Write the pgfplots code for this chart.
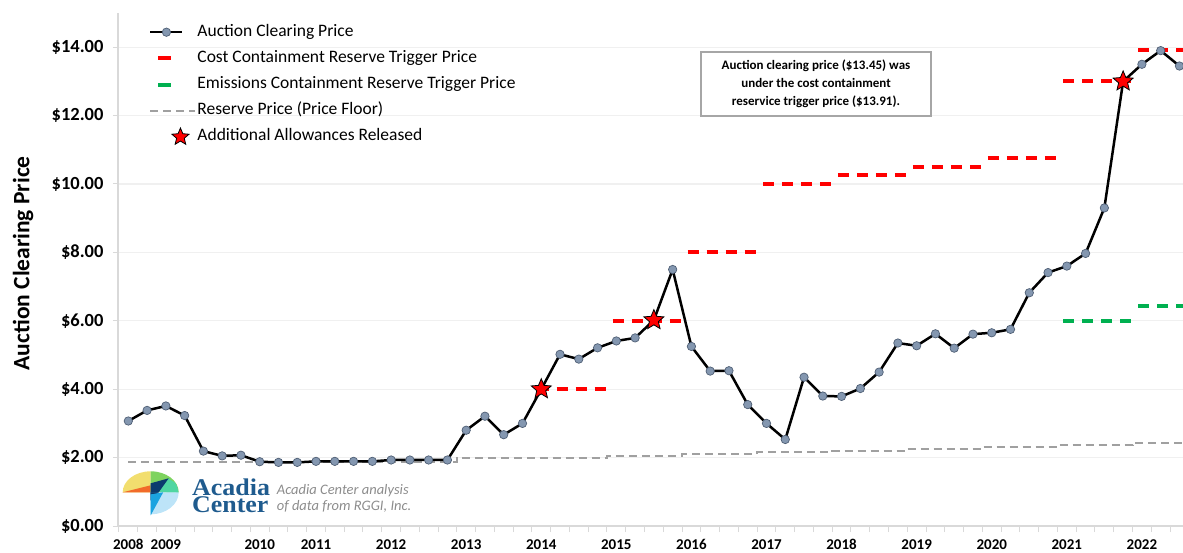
\documentclass[border=0pt]{standalone}
\usepackage{pgfplots}
\pgfplotsset{compat=1.18}
\usepackage{fontspec}
\setmainfont{Carlito}
\newfontfamily\logofont[FakeStretch=1.08]{Liberation Serif}
\usetikzlibrary{plotmarks}

\definecolor{markfill}{HTML}{8497B0}
\definecolor{markedge}{HTML}{4F5F75}
\definecolor{gridc}{HTML}{F0F0F0}
\definecolor{axc}{HTML}{D9D9D9}
\definecolor{ccr}{HTML}{FF0000}
\definecolor{ecr}{HTML}{00B050}
\definecolor{floorc}{HTML}{A0A0A0}
\definecolor{annc}{HTML}{A6A6A6}
\definecolor{logoblue}{HTML}{1F5B8E}
\definecolor{logogrey}{HTML}{8C8C8C}
\definecolor{lyellow}{HTML}{F2DE6E}
\definecolor{lorange}{HTML}{F26B2A}
\definecolor{lgreen}{HTML}{7ED35F}
\definecolor{lteal}{HTML}{4FD6A2}
\definecolor{lnavy}{HTML}{0B3B6E}
\definecolor{lblue}{HTML}{1BA3E0}
\definecolor{llblue}{HTML}{BDE4F8}

\pgfdeclareplotmark{fstar}{%
  \pgfpathmoveto{\pgfpointpolar{90}{\pgfplotmarksize}}%
  \pgfpathlineto{\pgfpointpolar{126}{0.45\pgfplotmarksize}}%
  \pgfpathlineto{\pgfpointpolar{162}{\pgfplotmarksize}}%
  \pgfpathlineto{\pgfpointpolar{198}{0.45\pgfplotmarksize}}%
  \pgfpathlineto{\pgfpointpolar{234}{\pgfplotmarksize}}%
  \pgfpathlineto{\pgfpointpolar{270}{0.45\pgfplotmarksize}}%
  \pgfpathlineto{\pgfpointpolar{306}{\pgfplotmarksize}}%
  \pgfpathlineto{\pgfpointpolar{342}{0.45\pgfplotmarksize}}%
  \pgfpathlineto{\pgfpointpolar{18}{\pgfplotmarksize}}%
  \pgfpathlineto{\pgfpointpolar{54}{0.45\pgfplotmarksize}}%
  \pgfpathclose
  \pgfusepathqfillstroke
}

\begin{document}
\begin{tikzpicture}
\useasboundingbox (-118pt,-26pt) rectangle (1065pt,526pt);
\begin{axis}[
  at={(0pt,0pt)}, anchor=south west,
  scale only axis, width=1065pt, height=513pt,
  xmin=-0.55, xmax=56.19, ymin=0, ymax=15,
  axis lines=left, axis line style={-, draw=axc, line width=1.3pt},
  xtick={0,2,7,10,14,18,22,26,30,34,38,42,46,50,54},
  xticklabels={2008,2009,2010,2011,2012,2013,2014,2015,2016,2017,2018,2019,2020,2021,2022},
  major x tick style={draw=none},
  minor xtick={-0.5,0.5,...,55.5},
  minor x tick style={draw=axc, line width=1pt},
  tick align=outside,
  minor tick length=6pt,
  major tick length=5pt,
  ytick={0,2,4,6,8,10,12,14},
  yticklabels={\$0.00,\$2.00,\$4.00,\$6.00,\$8.00,\$10.00,\$12.00,\$14.00},
  major y tick style={draw=axc, line width=1pt},
  ymajorgrids, grid style={draw=gridc, line width=1.3pt},
  xticklabel style={font=\bfseries\fontsize{15}{16}\selectfont, yshift=-5pt},
  yticklabel style={font=\bfseries\fontsize{18.5}{20}\selectfont, xshift=-6pt},
  ylabel={Auction Clearing Price},
  ylabel style={at={(axis description cs:-0.0892,0.512)}, anchor=center, font=\bfseries\fontsize{23.5}{24}\selectfont},
  unbounded coords=jump,
  clip=false,
  legend style={at={(rel axis cs:0,1)}, anchor=north west, draw=none, fill=none,
    xshift=31pt, yshift=-10pt, inner sep=0pt,
    font=\fontsize{17.5}{20}\selectfont, row sep=8.2pt,
    nodes={inner sep=1pt, text height=12pt, text depth=4pt}},
  legend cell align=left,
]
% legend images (order of the legend)
\addlegendimage{legend image code/.code={
  \path[draw=none, fill=none] (0pt,-5pt) rectangle (45pt,5pt);
  \draw[black, solid, line width=2.5pt] (0pt,0pt) -- (32pt,0pt);
  \draw[solid, fill=markfill, draw=markedge, line width=0.7pt] (16pt,0pt) circle (4.2pt);}}
\addlegendentry{Auction Clearing Price}
\addlegendimage{legend image code/.code={
  \path[draw=none, fill=none] (0pt,-5pt) rectangle (45pt,5pt);
  \draw[solid, ccr, line width=4pt] (8pt,0pt) -- (21pt,0pt);}}
\addlegendentry{Cost Containment Reserve Trigger Price}
\addlegendimage{legend image code/.code={
  \path[draw=none, fill=none] (0pt,-5pt) rectangle (45pt,5pt);
  \draw[solid, ecr, line width=4pt] (8pt,0pt) -- (21pt,0pt);}}
\addlegendentry{Emissions Containment Reserve Trigger Price}
\addlegendimage{legend image code/.code={
  \path[draw=none, fill=none] (0pt,-5pt) rectangle (45pt,5pt);
  \draw[floorc, line width=2pt, dash pattern=on 8pt off 5pt] (0pt,0pt) -- (45pt,0pt);}}
\addlegendentry{Reserve Price (Price Floor)}
\addlegendimage{legend image code/.code={
  \path[draw=none, fill=none] (0pt,-5pt) rectangle (45pt,5pt);
  \draw[solid, fill=red, draw=black, line width=0.8pt] plot[only marks, mark=fstar, mark size=9pt] coordinates {(30pt,0pt)};}}
\addlegendentry{Additional Allowances Released}

% Reserve price (floor)
\addplot[forget plot, floorc, line width=2pt, dash pattern=on 8pt off 5pt] coordinates {
(0,1.86) (17.5,1.86) (17.5,1.98) (21.5,1.98) (21.5,2.00) (25.5,2.00) (25.5,2.05) (29.5,2.05)
(29.5,2.10) (33.5,2.10) (33.5,2.15) (37.5,2.15) (37.5,2.20) (41.5,2.20) (41.5,2.26) (45.5,2.26)
(45.5,2.32) (49.5,2.32) (49.5,2.38) (53.5,2.38) (53.5,2.44) (56.19,2.44)};

% Cost containment reserve trigger
\addplot[forget plot, ccr, line width=4pt, dash pattern=on 11pt off 8pt] coordinates {
(21.8,4) (25.5,4) (25.6,nan)
(25.8,6) (29.5,6) (29.6,nan)
(29.8,8) (33.5,8) (33.6,nan)
(33.8,10) (37.5,10) (37.6,nan)
(37.8,10.25) (41.5,10.25) (41.6,nan)
(41.8,10.51) (45.5,10.51) (45.6,nan)
(45.8,10.77) (49.5,10.77) (49.6,nan)
(49.8,13.00) (53.5,13.00) (53.6,nan)
(53.8,13.91) (56.19,13.91)};

% Emissions containment reserve trigger
\addplot[forget plot, ecr, line width=4pt, dash pattern=on 11pt off 8pt] coordinates {
(49.8,6.00) (53.5,6.00) (53.6,nan)
(53.8,6.42) (56.19,6.42)};

% Auction clearing price
\addplot[forget plot, black, line width=2.5pt, mark=*, mark size=4.2pt,
  mark options={fill=markfill, draw=markedge, line width=0.7pt}] coordinates {
(0,3.07) (1,3.38) (2,3.51) (3,3.23) (4,2.19) (5,2.05) (6,2.07) (7,1.88) (8,1.86) (9,1.86)
(10,1.89) (11,1.89) (12,1.89) (13,1.89) (14,1.93) (15,1.93) (16,1.93) (17,1.93) (18,2.80) (19,3.21)
(20,2.67) (21,3.00) (22,4.00) (23,5.02) (24,4.88) (25,5.21) (26,5.41) (27,5.50) (28,6.02) (29,7.50)
(30,5.25) (31,4.53) (32,4.54) (33,3.55) (34,3.00) (35,2.53) (36,4.35) (37,3.80) (38,3.79) (39,4.02)
(40,4.50) (41,5.35) (42,5.27) (43,5.62) (44,5.20) (45,5.61) (46,5.65) (47,5.75) (48,6.82) (49,7.41)
(50,7.60) (51,7.97) (52,9.30) (53,13.00) (54,13.50) (55,13.90) (56,13.45)};

% Additional allowances released
\addplot[forget plot, only marks, mark=fstar, mark size=10.5pt,
  mark options={fill=red, draw=black, line width=0.8pt}] coordinates {
(22,4.00) (28,6.02) (53,13.00)};

% annotation
\node[draw=annc, line width=1.5pt, fill=white, align=center, inner sep=0pt,
  minimum width=230pt, minimum height=64pt,
  font=\bfseries\fontsize{13}{18}\selectfont] at (axis cs:36.64,12.92)
  {Auction clearing price (\$13.45) was\\under the cost containment\\reservice trigger price (\$13.91).};
\end{axis}

% Acadia Center logo
\begin{scope}[shift={(32.7pt,33.7pt)}]
  \fill[lyellow] (0,0) -- (-28pt,0) arc[start angle=180, end angle=90, x radius=28pt, y radius=21pt] -- cycle;
  \fill[lorange] (-28pt,0) -- (0,7pt) -- (0,0) -- cycle;
  \fill[lgreen] (0,0) -- (0,21pt) arc[start angle=90, end angle=0, x radius=28pt, y radius=21pt] -- cycle;
  \fill[lteal] (17pt,14pt) -- (24pt,10pt) arc[start angle=30, end angle=0, x radius=28pt, y radius=21pt] -- (8pt,0) -- cycle;
  \fill[lnavy] (0,9pt) -- (18pt,14pt) -- (8pt,0pt) -- (0,-8pt) -- cycle;
  \fill[llblue] (0,0) -- (28pt,0) arc[start angle=0, end angle=-90, x radius=28pt, y radius=22pt] -- cycle;
  \fill[lnavy] (0,0) -- (8pt,0) -- (0,-8pt) -- cycle;
  \fill[lblue] (0,-2pt) -- (12.5pt,0) -- (0,-23pt) -- cycle;
  \fill[lnavy] (0,0) -- (8pt,0) -- (0,-2pt) -- cycle;
\end{scope}
\node[anchor=north west, inner sep=0pt, align=left, text=logoblue, font=\logofont\bfseries\fontsize{24}{17.3}\selectfont] at (74pt,47.6pt) {Acadia\\Center};
\node[anchor=base west, inner sep=0pt, text=logogrey, font=\itshape\fontsize{14.5}{15}\selectfont] at (158.7pt,32pt) {Acadia Center analysis};
\node[anchor=base west, inner sep=0pt, text=logogrey, font=\itshape\fontsize{14.5}{15}\selectfont] at (158.7pt,16pt) {of data from RGGI, Inc.};
\end{tikzpicture}
\end{document}
